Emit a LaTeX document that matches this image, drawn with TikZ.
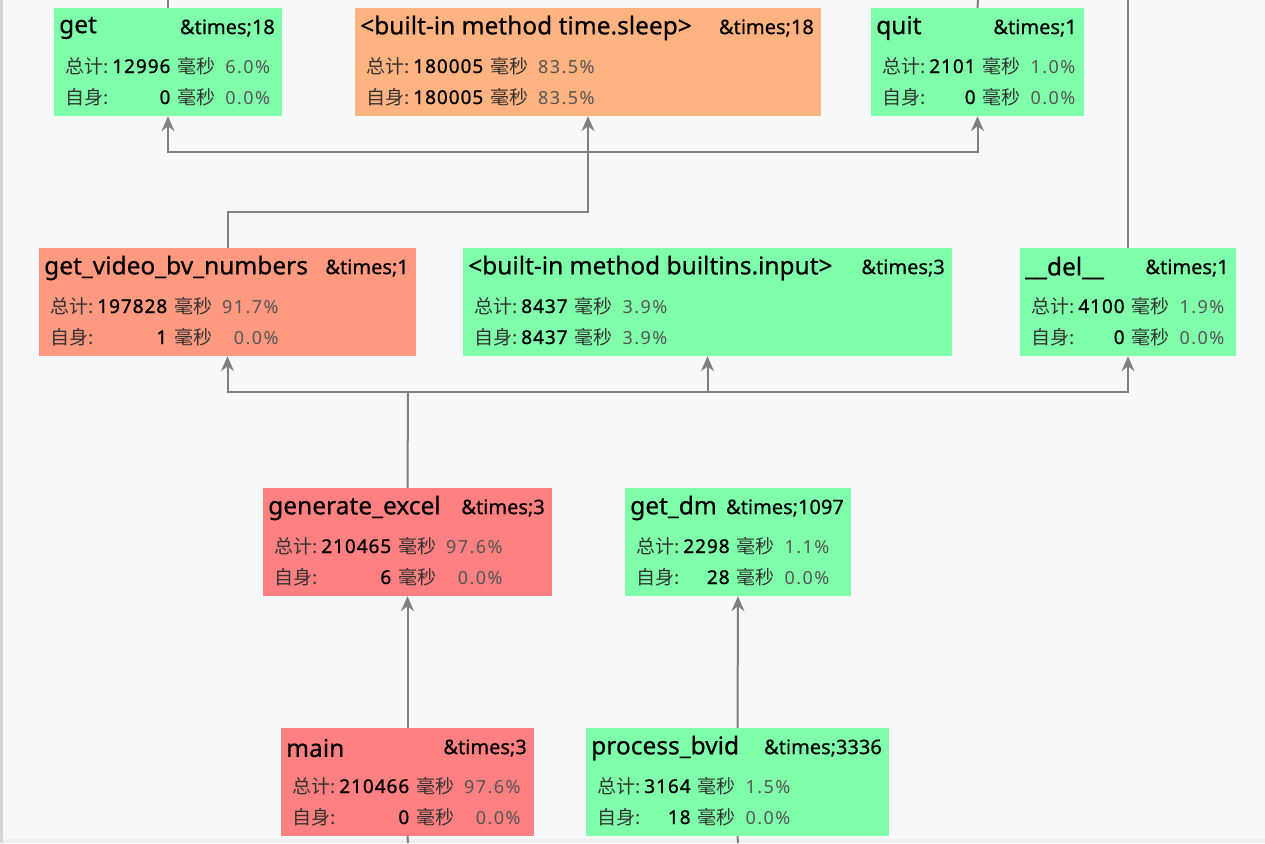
\documentclass[tikz,border=0pt]{standalone}
\usepackage{fontspec}
\usepackage{xcolor}
\usepackage{tikz}
\usetikzlibrary{arrows.meta}
\setmainfont{Noto Sans}
\newfontfamily\gras[FakeBold=0.5]{Noto Sans}
\newfontfamily\espace[LetterSpace=8]{Noto Sans}
\newfontfamily\chiffre[FakeBold=1,LetterSpace=5]{Noto Sans}
\newfontfamily\cjk{Noto Sans CJK SC}
\definecolor{fond}{HTML}{F7F8FA}
\definecolor{vert}{HTML}{80FFAA}
\definecolor{orange}{HTML}{FFB380}
\definecolor{saumon}{HTML}{FF9980}
\definecolor{rouge}{HTML}{FF8080}
\definecolor{trait}{HTML}{808080}
\definecolor{libelle}{HTML}{333333}
\definecolor{pourcent}{HTML}{555555}

\begin{document}
\begin{tikzpicture}[x=1pt,y=-1pt]
% Styles (MODIFIABLES)
\tikzstyle{fleche}=[-{Stealth[length=15pt,width=13pt,inset=5pt]},draw=trait,line width=2pt]
\tikzstyle{lien}=[draw=trait,line width=2pt]
\tikzstyle{boite}=[rectangle,minimum height=108pt,inner sep=0pt]
\tikzstyle{titre}=[inner sep=0pt,font=\gras\fontsize{24.5}{28}\selectfont]
\tikzstyle{appels}=[inner sep=0pt,font=\gras\fontsize{20}{24}\selectfont]
\tikzstyle{chiffres}=[inner sep=0pt,anchor=west,font=\espace\fontsize{18}{22}\selectfont]
% Fond
\fill[fond] (0,0) rectangle (1265,843);
\fill[black!17] (0,0) rectangle (3,843);
\fill[black!6] (3,839) rectangle (1265,843);
\useasboundingbox (0,0) rectangle (1265,843);
% Macros : nom, x, y, largeur, couleur, titre, appels
\def\Boite#1#2#3#4#5#6#7{%
\node[boite,fill=#5,minimum width=#4pt] (#1) at ({#2+#4/2},{#3+54}) {};
\node[titre,anchor=west] at ({#2+5},{#3+20}) {#6};
\node[appels,anchor=east] at ({#2+#4-7},{#3+20}) {\&times;#7};}
% Macros : nom, total, pourcentage, propre, pourcentage
\def\Ms{{\cjk\fontsize{19}{22}\selectfont\color{libelle}毫秒}}
\def\Stats#1#2#3#4#5{%
\node[chiffres] at ([xshift=11pt,yshift=-21pt]#1.west) {%
\begin{tabular}{@{}l@{\hspace{4pt}}r@{\hspace{7pt}}l@{\hspace{10pt}}r@{}}
\rule[-10pt]{0pt}{31pt}{\cjk\fontsize{19}{22}\selectfont\color{libelle}总计:} & {\chiffre\fontsize{19}{22}\selectfont #2} & \Ms & \textcolor{pourcent}{#3}\\
\rule[-10pt]{0pt}{31pt}{\cjk\fontsize{19}{22}\selectfont\color{libelle}自身:} & {\chiffre\fontsize{19}{22}\selectfont #4} & \Ms & \textcolor{pourcent}{#5}\\
\end{tabular}};}
% Noeuds (MODIFIABLES)
\Boite{Get}{54}{8}{228}{vert}{get}{18}
\Stats{Get}{12996}{6.0\%}{0}{0.0\%}
\Boite{Sommeil}{355}{8}{466}{orange}{<built-in method time.sleep>}{18}
\Stats{Sommeil}{180005}{83.5\%}{180005}{83.5\%}
\Boite{Quit}{871}{8}{213}{vert}{quit}{1}
\Stats{Quit}{2101}{1.0\%}{0}{0.0\%}
\Boite{Video}{39}{248}{377}{saumon}{get\_video\_bv\_numbers}{1}
\Stats{Video}{197828}{91.7\%}{1}{0.0\%}
\Boite{Saisie}{463}{248}{489}{vert}{<built-in method builtins.input>}{3}
\Stats{Saisie}{8437}{3.9\%}{8437}{3.9\%}
\Boite{Del}{1020}{248}{216}{vert}{\_\_del\_\_}{1}
\Stats{Del}{4100}{1.9\%}{0}{0.0\%}
\Boite{Excel}{263}{488}{289}{rouge}{generate\_excel}{3}
\Stats{Excel}{210465}{97.6\%}{6}{0.0\%}
\Boite{Dm}{625}{488}{226}{vert}{get\_dm}{1097}
\Stats{Dm}{2298}{1.1\%}{28}{0.0\%}
\Boite{Main}{281}{728}{253}{rouge}{main}{3}
\Stats{Main}{210466}{97.6\%}{0}{0.0\%}
\Boite{Bvid}{586}{728}{303}{vert}{process\_bvid}{3336}
\Stats{Bvid}{3164}{1.5\%}{18}{0.0\%}
% Points de jonction
\coordinate (BusA) at (588,152);
\coordinate (BusB) at (408,392);
\coordinate (HautGet) at (168,0);
\coordinate (HautQuit) at (978,0);
\coordinate (HautDel) at (1128,0);
\coordinate (BasMain) at (408,843);
\coordinate (BasBvid) at (738,843);
% Arcs (MODIFIABLES : Styles)
\draw[lien] (HautGet)--(Get.north);
\draw[lien] (HautQuit)--(Quit.north);
\draw[lien] (HautDel)--(Del.north);
\draw[fleche] (Video.north)|-(BusA |- 0,212)-|(Sommeil.south);
\draw[fleche] (BusA)-|(Get.south);
\draw[fleche] (BusA)-|(Quit.south);
\draw[lien] (Excel.north)--(BusB);
\draw[fleche] (BusB)-|(Video.south);
\draw[fleche] (BusB)-|(Saisie.south);
\draw[fleche] (BusB)-|(Del.south);
\draw[fleche] (Main.north)--(Excel.south);
\draw[fleche] (Bvid.north)--(Dm.south);
\draw[lien] (Main.south)--(BasMain);
\draw[lien] (Bvid.south)--(BasBvid);
\end{tikzpicture}
\end{document}
